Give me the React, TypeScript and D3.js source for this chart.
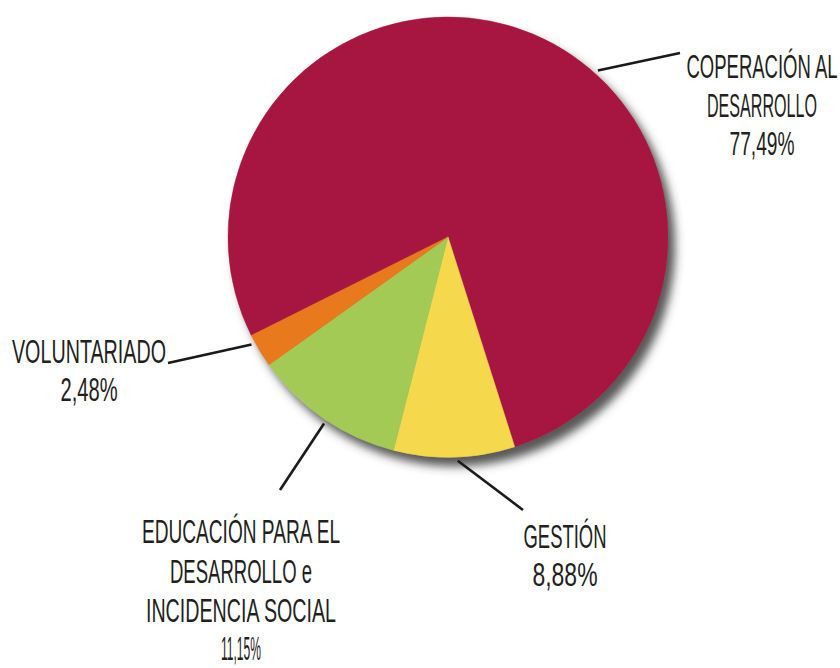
import React, { useLayoutEffect, useRef, useState } from "react";
import * as d3 from "d3";

const categories = [
  "Coperación al desarrollo",
  "Gestión",
  "Educación para el desarrollo e incidencia social",
  "Voluntariado",
];
const values = [77.49, 8.88, 11.15, 2.48];
const colors = ["#A6193F", "#F6D84E", "#A4CA56", "#E8791F"];
const labelLines = [
  ["COPERACIÓN AL", "DESARROLLO", "77,49%"],
  ["GESTIÓN", "8,88%"],
  ["EDUCACIÓN PARA EL", "DESARROLLO e", "INCIDENCIA SOCIAL", "11,15%"],
  ["VOLUNTARIADO", "2,48%"],
];

// layout (not data)
const W = 840;
const H = 668;
const CX = 448;
const CY = 237;
const R = 220;
const START_DEG = -116.6;
const FONT_SIZE = 34;
const labelLayout = [
  { x: 762, ys: [78, 117, 155], widths: [151, 110, 65], leadDeg: 42, end: [680, 53] },
  { x: 565, ys: [548, 586], widths: [83, 65], leadDeg: 177.5, end: [523, 510] },
  { x: 241, ys: [543, 583, 622, 660], widths: [198, 142, 190, 40], leadDeg: 213.6, end: [280, 490] },
  { x: 89, ys: [363, 401], widths: [154, 57], leadDeg: 241.3, end: [168, 363] },
];

function Label({ text, x, y, width }: { text: string; x: number; y: number; width: number }) {
  const ref = useRef<SVGTextElement>(null);
  const [sx, setSx] = useState(0.5);
  useLayoutEffect(() => {
    if (ref.current) {
      const w = ref.current.getComputedTextLength();
      if (w > 0) setSx(width / w);
    }
  }, [text, width]);
  return (
    <text
      ref={ref}
      transform={`translate(${x},${y}) scale(${sx},1)`}
      textAnchor="middle"
      fontFamily="'Liberation Sans', Arial, sans-serif"
      fontSize={FONT_SIZE}
      fill="#231F20"
    >
      {text}
    </text>
  );
}

export default function App() {
  const start = (START_DEG * Math.PI) / 180;
  const pie = d3
    .pie<number>()
    .sort(null)
    .value((d) => d)
    .startAngle(start)
    .endAngle(start + 2 * Math.PI);
  const arcs = pie(values);
  const arc = d3.arc<d3.PieArcDatum<number>>().innerRadius(0).outerRadius(R);

  return (
    <svg
      width={W}
      height={H}
      viewBox={`0 0 ${W} ${H}`}
      style={{ position: "absolute", left: 0, top: 0, background: "#fff" }}
    >
      <defs>
        <filter id="shadow" x="-20%" y="-20%" width="150%" height="150%">
          <feDropShadow dx="7" dy="9" stdDeviation="5" floodColor="#3a3a3a" floodOpacity="0.85" />
        </filter>
      </defs>
      <g transform={`translate(${CX},${CY})`} filter="url(#shadow)">
        {arcs.map((a, i) => (
          <path key={categories[i]} d={arc(a) || ""} fill={colors[i]} stroke={colors[i]} strokeWidth={0.5} />
        ))}
      </g>
      {labelLayout.map((l, i) => {
        const ang = (l.leadDeg * Math.PI) / 180;
        const sx = CX + (R + 4) * Math.sin(ang);
        const sy = CY - (R + 4) * Math.cos(ang);
        return (
          <g key={categories[i]}>
            <line x1={sx} y1={sy} x2={l.end[0]} y2={l.end[1]} stroke="#1a1a1a" strokeWidth={2.6} />
            {labelLines[i].map((t, j) => (
              <Label key={j} text={t} x={l.x} y={l.ys[j]} width={l.widths[j]} />
            ))}
          </g>
        );
      })}
    </svg>
  );
}
